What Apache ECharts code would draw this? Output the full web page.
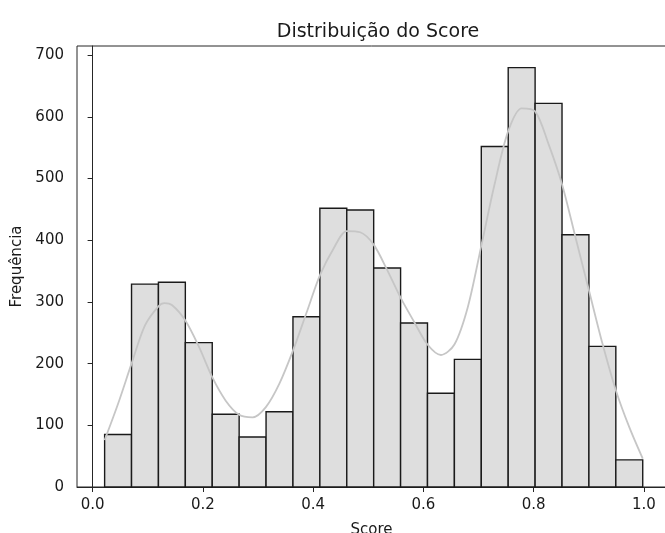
<!DOCTYPE html>
<html>
<head>
<meta charset="utf-8">
<script src="https://cdn.jsdelivr.net/npm/echarts@6/dist/echarts.min.js"></script>
<style>
html,body{margin:0;padding:0;background:#fff;}
#chart{width:665px;height:533px;}
</style>
</head>
<body>
<div id="chart"></div>
<script>
// Histogram bin edges
var binEdges = [0.0218, 0.0706, 0.1194, 0.1682, 0.2170, 0.2658, 0.3146, 0.3634, 0.4122, 0.4610,
                0.5098, 0.5586, 0.6074, 0.6562, 0.7050, 0.7538, 0.8026, 0.8514, 0.9002, 0.9490, 0.9978];
// Counts per bin
var counts = [85, 329, 332, 234, 118, 81, 122, 276, 452, 449, 355, 266, 152, 207, 552, 680, 622, 409, 228, 44];
// KDE curve samples (x, y)
var kdeX = [0.0218, 0.0462, 0.0706, 0.0950, 0.1194, 0.1303, 0.1438, 0.1682, 0.1926, 0.2170, 0.2414, 0.2658,
            0.2902, 0.3146, 0.3390, 0.3634, 0.3878, 0.4122, 0.4366, 0.4610, 0.4854, 0.5098, 0.5342, 0.5586,
            0.5830, 0.6074, 0.6318, 0.6562, 0.6806, 0.7050, 0.7294, 0.7538, 0.7782, 0.8026, 0.8270, 0.8514,
            0.8758, 0.9002, 0.9246, 0.9490, 0.9734, 0.9978];
var kdeY = [76, 135, 200, 262, 293, 298, 295, 270, 228, 178, 140, 117,
            113, 130, 168, 221, 282, 343, 386, 415, 413, 393, 352, 307,
            268, 231, 214, 231, 292, 391, 492, 577, 614, 609, 556, 491,
            405, 319, 233, 157, 97, 46];
// Tick labels
var xTicks = [0.0, 0.2, 0.4, 0.6, 0.8, 1.0];
var yTicks = [0, 100, 200, 300, 400, 500, 600, 700];

var histData = counts.map(function (c, i) { return [binEdges[i], binEdges[i + 1], c]; });
var kdeData = kdeX.map(function (x, i) { return [x, kdeY[i]]; });

var font = 'DejaVu Sans';
var ink = '#1a1a1a';
var chart = echarts.init(document.getElementById('chart'), null, {renderer: 'canvas'});
chart.setOption({
  animation: false,
  backgroundColor: '#ffffff',
  title: {
    text: 'Distribuição do Score',
    left: 373, top: 18, textAlign: 'center',
    textStyle: {fontFamily: font, fontSize: 19, fontWeight: 'normal', color: ink}
  },
  grid: {left: 77, top: 46, right: -1, bottom: 46, containLabel: false, outerBoundsMode: 'none',
         show: true, borderColor: '#262626', borderWidth: 1, backgroundColor: 'transparent'},
  xAxis: {
    type: 'value', min: -0.0283, max: 1.04,
    name: 'Score', nameLocation: 'middle', nameGap: 36,
    nameTextStyle: {fontFamily: font, fontSize: 15, color: ink},
    axisLine: {show: true, lineStyle: {color: '#262626', width: 1}},
    axisTick: {show: true, length: 5, customValues: xTicks, lineStyle: {color: '#262626'}},
    axisLabel: {customValues: xTicks, margin: 11, fontFamily: font, fontSize: 15, color: ink,
      formatter: function (v) { return v.toFixed(1); }},
    splitLine: {show: false}
  },
  yAxis: {
    type: 'value', min: 0, max: 715,
    name: 'Frequência', nameLocation: 'middle', nameGap: 52,
    nameTextStyle: {fontFamily: font, fontSize: 15, color: ink},
    axisLine: {show: true, lineStyle: {color: '#262626', width: 1}},
    axisTick: {show: true, length: 5, customValues: yTicks, lineStyle: {color: '#262626'}},
    axisLabel: {customValues: yTicks, margin: 13, fontFamily: font, fontSize: 15, color: ink},
    splitLine: {show: false}
  },
  series: [
    {
      type: 'custom',
      data: histData,
      encode: {x: [0, 1], y: 2},
      renderItem: function (params, api) {
        var p0 = api.coord([api.value(0), api.value(2)]);
        var p1 = api.coord([api.value(1), 0]);
        return {
          type: 'rect',
          shape: {x: p0[0], y: p0[1], width: p1[0] - p0[0], height: p1[1] - p0[1]},
          style: {fill: '#dedede', stroke: '#1a1a1a', lineWidth: 1.4}
        };
      },
      z: 2
    },
    {
      type: 'line',
      data: kdeData,
      smooth: 0.3,
      showSymbol: false,
      lineStyle: {color: '#c6c6c6', width: 1.8},
      z: 3
    }
  ]
});
</script>
</body>
</html>
